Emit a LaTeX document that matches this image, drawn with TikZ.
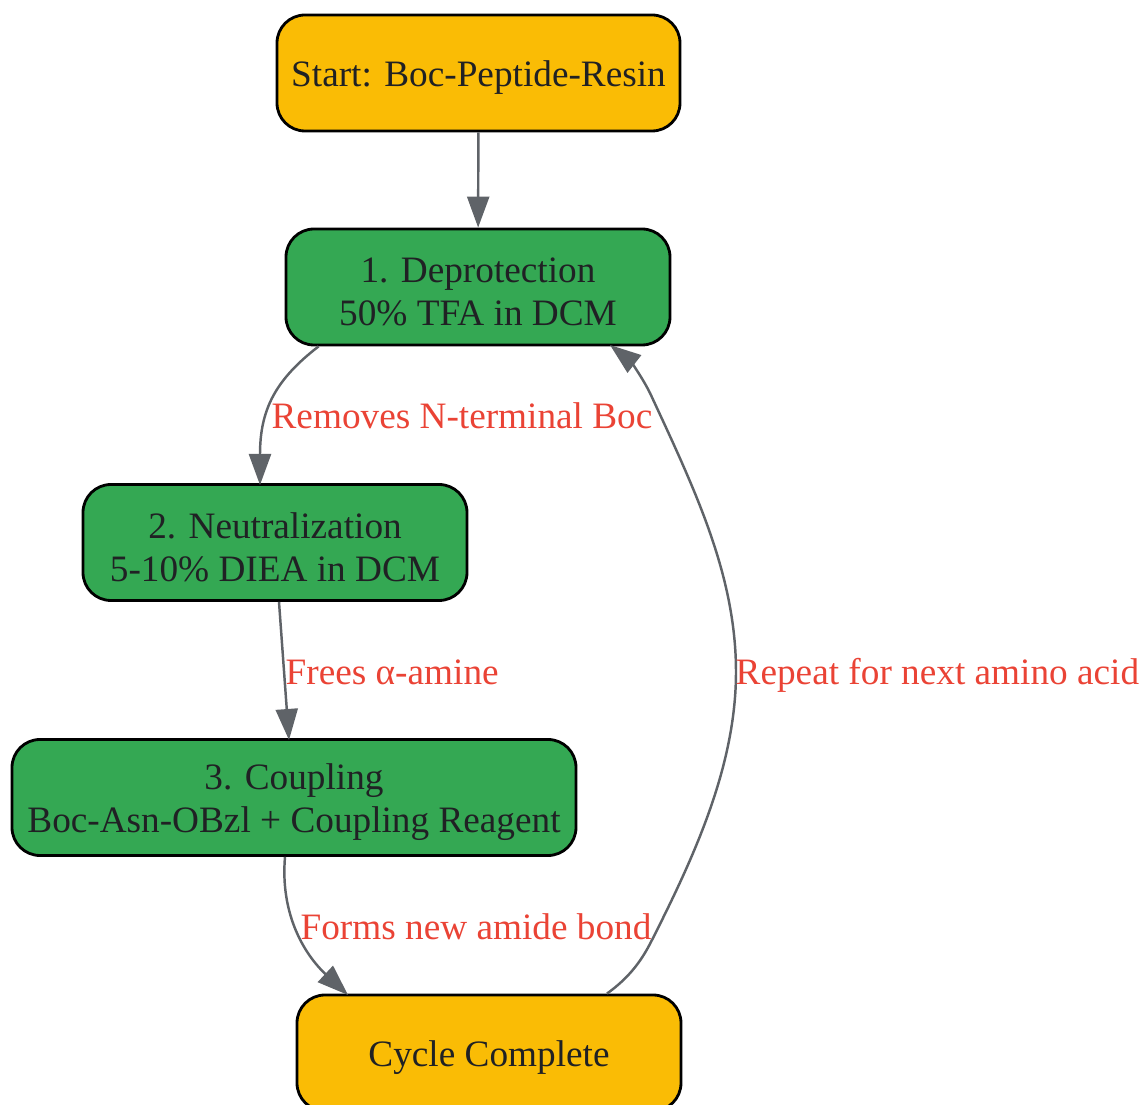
\documentclass[tikz,border=0pt]{standalone}
\usepackage{fontspec}
\setmainfont{Liberation Serif}
\usetikzlibrary{arrows.meta}
\definecolor{boxgreen}{HTML}{34A853}
\definecolor{boxyellow}{HTML}{FABC05}
\definecolor{edgegray}{HTML}{5F6368}
\definecolor{labelred}{HTML}{EA4335}
\definecolor{textdark}{HTML}{202124}
\begin{document}
\begin{tikzpicture}[>={Triangle[length=3.1mm,width=2.2mm]},
    stepbox/.style={draw=black,line width=0.8pt,rounded corners=0.28cm,
        minimum height=1.16cm},
    boxtext/.style={text=textdark,align=center,inner sep=0pt,yshift=-0.045cm,
        font=\fontsize{10.6}{12.2}\selectfont},
    greenbox/.style={stepbox,fill=boxgreen,minimum width=3.84cm},
    yellowbox/.style={stepbox,fill=boxyellow},
    flow/.style={->,draw=edgegray,line width=0.7pt},
    steplabel/.style={text=labelred,font=\fontsize{10.6}{12.2}\selectfont,inner sep=0pt}]
            \useasboundingbox (0,0) rectangle (11.42,11.05);
            \node[yellowbox,minimum width=4.03cm,label={[boxtext]center:{Start: Boc-Peptide-Resin}}] (start) at (4.785,10.32) {};
            \node[greenbox,label={[boxtext]center:{1. Deprotection\\50\% TFA in DCM}}] (deprot) at (4.78,8.18) {};
            \node[greenbox,label={[boxtext]center:{2. Neutralization\\5-10\% DIEA in DCM}}] (neutr) at (2.75,5.625) {};
            \node[greenbox,minimum width=5.64cm,label={[boxtext]center:{3. Coupling\\Boc-Asn-OBzl + Coupling Reagent}}] (coupl) at (2.94,3.075) {};
            \node[yellowbox,minimum width=3.84cm,label={[boxtext]center:{Cycle Complete}}] (done) at (4.89,0.52) {};
            % edges
            \draw[flow] (start) -- (deprot);
            \draw[flow] (deprot.south west)+(0.34,0) .. controls (2.75,7.25) and (2.60,6.95) .. (2.60,6.20);
            \node[steplabel] (lremove) at (4.62,6.89) {Removes N-terminal Boc};
            \draw[flow] (neutr.south)+(0.04,0) -- (2.89,3.65);
            \node[steplabel,anchor=west] (lfree) at (2.85,4.33) {Frees α-amine};
            \draw[flow] (coupl.south)+(-0.09,0) .. controls (2.80,1.90) and (3.05,1.50) .. (3.48,1.10);
            \node[steplabel] (lform) at (4.76,1.78) {Forms new amide bond};
            \draw[flow] (done.north)+(1.18,0) .. controls (6.30,1.28) and (6.42,1.45) .. (6.52,1.65)
                .. controls (6.95,2.50) and (7.36,3.40) .. (7.36,4.33)
                .. controls (7.36,5.30) and (6.95,6.15) .. (6.50,7.12)
                .. controls (6.40,7.32) and (6.28,7.46) .. (6.10,7.60);
            \node[steplabel,anchor=west] (lrepeat) at (7.35,4.30) {Repeat for next amino acid};
        \end{tikzpicture}
\end{document}
